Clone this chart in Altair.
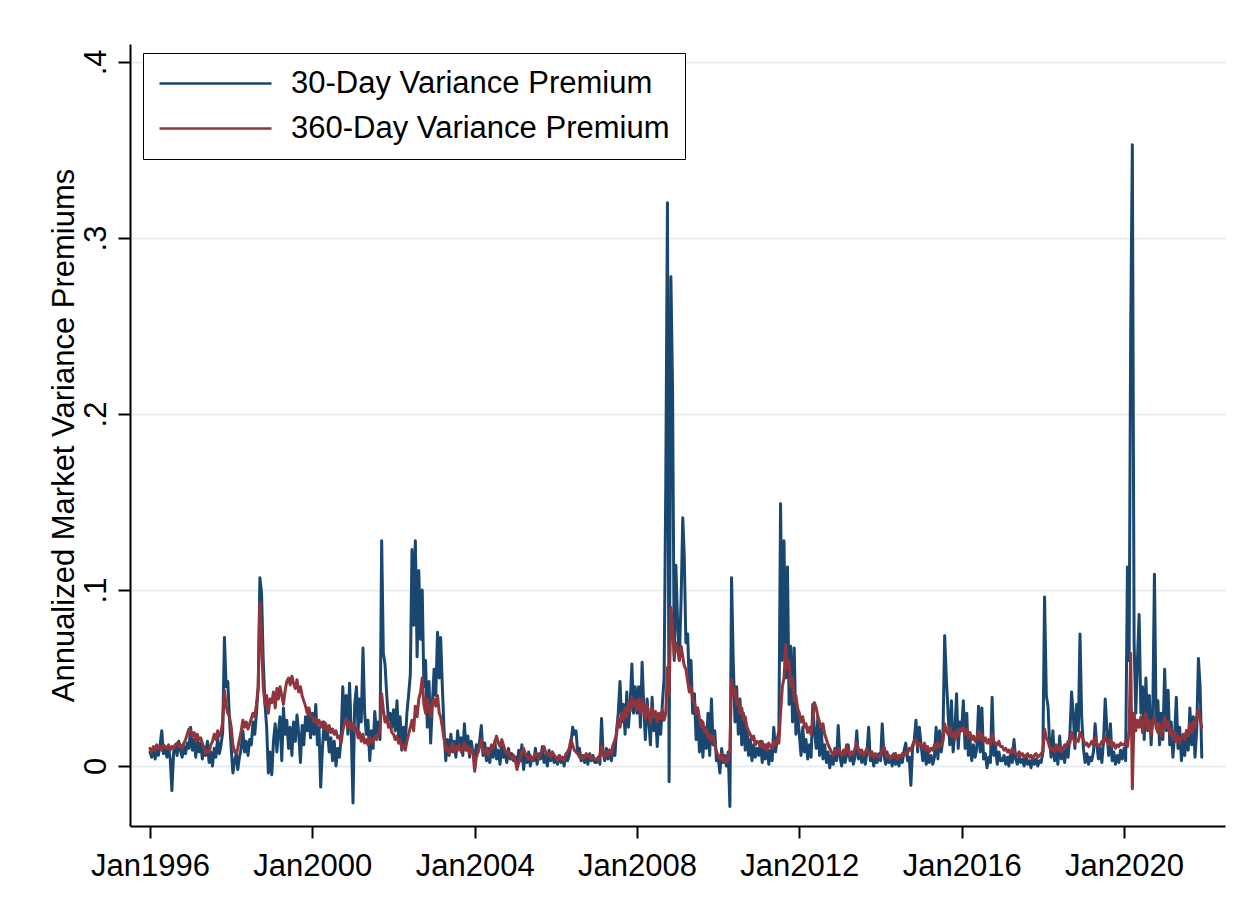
import altair as alt
import pandas as pd

# Values, in thousandths (0.001) of annualized variance.
# 24 readings per year (1st and 16th of each month); 2021 ends in early December.

p30_1996 = [8, 5, 10, 4, 9, 6, 12, 20, 7, 11, 5, 10, 4, -14, 8, 12, 6, 14, 9, 5, 11, 7, 13, 10]
p30_1997 = [22, 9, 15, 5, 17, 8, 13, 4, 11, 6, 14, 2, 8, 0, 10, 5, 16, 7, 12, 19, 73, 45, 48, 27]
p30_1998 = [10, -4, 3, 7, -2, 5, 10, 20, 8, 14, 6, 15, 12, 25, 18, 30, 45, 107, 98, 60, 35, 22, -4, 8]
p30_1999 = [-5, 14, 24, 8, 19, 28, 3, 33, 18, 26, 10, 22, 6, 25, 14, 29, 18, 2, 23, 12, 28, 20, 32, 16]
p30_2000 = [30, 18, 35, 12, 22, -12, 10, 25, 15, 20, 8, 16, 3, 14, 0, 10, 5, 16, 45, 25, 40, 18, 47, 20]
p30_2001 = [-21, 35, 45, 20, 38, 25, 67, 30, 18, 26, 3, 20, 10, 31, 18, 25, 15, 128, 64, 58, 40, 26, 30, 22]
p30_2002 = [32, 20, 37, 15, 28, 9, 22, 12, 30, 40, 52, 123, 80, 128, 62, 111, 72, 100, 45, 60, 22, 48, 13, 35]
p30_2003 = [55, 40, 76, 50, 73, 45, 20, 3, 15, 6, 18, 8, 14, 5, 20, 10, 16, 6, 24, 9, 17, 5, 14, 8]
p30_2004 = [4, 12, 8, 15, 23, 6, 13, 3, 10, 2, 11, 5, 14, 4, 9, 1, 12, 5, 8, 2, 10, 4, 7, 3]
p30_2005 = [5, 1, 9, 3, 12, -2, 6, 2, 8, 0, 5, 3, 10, 1, 7, 4, 11, 2, 6, 0, 9, 3, 7, 2]
p30_2006 = [4, 1, 6, 2, 5, 0, 7, 3, 6, 12, 22, 18, 20, 8, 10, 3, 6, 2, 5, 1, 7, 3, 6, 2]
p30_2007 = [2, 5, 1, 27, 8, 3, 10, 4, 9, 3, 12, 6, 20, 30, 48, 25, 35, 18, 42, 22, 36, 58, 30, 45]
p30_2008 = [30, 45, 22, 59, 35, 15, 38, 25, 12, 39, 20, 30, 11, 28, 18, 35, 50, 160, 320, -9, 278, 215, 60, 114]
p30_2009 = [80, 60, 95, 141, 120, 70, 75, 45, 60, 30, 41, 15, 31, 8, 26, 5, 22, 10, 30, 6, 38, 12, 20, 3]
p30_2010 = [5, -4, 10, 2, 6, 0, 8, -23, 107, 60, 25, 45, 18, 38, 12, 30, 9, 22, 6, 15, 3, 12, 5, 10]
p30_2011 = [6, 14, 2, 10, 4, 12, 1, 9, 3, 22, 8, 15, 20, 149, 60, 128, 50, 113, 35, 68, 25, 67, 18, 30]
p30_2012 = [18, 6, 22, 8, 15, 4, 12, 5, 35, 20, 10, 28, 6, 21, 4, 12, 2, 8, -1, 6, 1, 10, 3, 23]
p30_2013 = [5, 0, 8, 2, 6, 12, 3, 7, 1, 5, 20, 4, 9, 2, 6, 1, 8, 22, 3, 6, 0, 5, 2, 7]
p30_2014 = [3, 24, 6, 1, 8, 2, 5, 0, 7, 1, 4, 0, 6, 2, 9, 13, 3, 5, -11, 10, 15, 26, 8, 22]
p30_2015 = [12, 3, 10, 1, 8, 2, 6, 1, 5, 22, 4, 20, 8, 15, 74, 50, 30, 12, 37, 8, 20, 41, 10, 25]
p30_2016 = [20, 37, 10, 30, 6, 15, 3, 12, 5, 10, 34, 8, 33, 4, 7, -1, 5, 2, 39, 6, 11, 1, 8, 3]
p30_2017 = [3, 6, 1, 5, 0, 8, 2, 15, 4, 1, 5, 2, 4, 0, 6, 1, 3, -1, 5, 1, 4, 0, 3, 2]
p30_2018 = [8, 96, 40, 34, 15, 5, 20, 3, 10, 1, 17, 4, 9, 2, 12, 5, 18, 42, 30, 10, 35, 20, 75, 28]
p30_2019 = [10, 2, 7, 1, 5, 3, 8, 24, 12, 4, 10, 2, 15, 38, 20, 6, 24, 3, 8, 1, 6, 2, 9, 4]
p30_2020 = [10, 3, 113, 60, 245, 353, 70, 30, 60, 86, 30, 45, 15, 50, 20, 40, 12, 30, 109, 25, 37, 12, 30, 15]
p30_2021 = [55, 20, 43, 12, 25, 5, 18, 39, 10, 22, 3, 15, 6, 20, 9, 33, 12, 28, 5, 20, 61, 45, 5]

p360_1996 = [10, 8, 11, 9, 12, 10, 11, 9, 12, 11, 10, 12, 9, 11, 10, 12, 13, 11, 12, 10, 13, 15, 18, 21]
p360_1997 = [20, 17, 19, 14, 18, 15, 16, 13, 10, 7, 9, 8, 12, 14, 18, 15, 20, 17, 19, 25, 43, 34, 30, 28]
p360_1998 = [22, 12, 8, 7, 10, 15, 20, 26, 22, 25, 21, 24, 27, 30, 28, 35, 45, 93, 70, 45, 35, 40, 30, 38]
p360_1999 = [36, 42, 33, 44, 38, 45, 40, 35, 43, 48, 50, 46, 51, 47, 44, 49, 42, 45, 40, 37, 34, 30, 33, 28]
p360_2000 = [28, 25, 27, 24, 26, 22, 25, 21, 24, 20, 23, 19, 21, 18, 20, 16, 17, 13, 20, 24, 27, 22, 25, 21]
p360_2001 = [24, 20, 22, 16, 19, 14, 18, 13, 15, 12, 16, 13, 14, 17, 15, 18, 20, 41, 32, 25, 28, 22, 24, 19]
p360_2002 = [18, 15, 17, 13, 15, 10, 12, 9, 14, 18, 22, 26, 20, 34, 28, 38, 42, 50, 35, 30, 38, 33, 28, 36]
p360_2003 = [38, 34, 40, 30, 28, 22, 15, 9, 11, 7, 10, 13, 8, 11, 9, 12, 8, 10, 13, 9, 11, 7, 10, 8]
p360_2004 = [-3, 5, 8, 11, 15, 9, 7, 10, 6, 9, 12, 10, 14, 17, 13, 11, 15, 12, 9, 7, 8, 5, 4, 6]
p360_2005 = [3, -2, 2, 5, 8, 10, 7, 5, 4, 6, 3, 5, 7, 6, 4, 7, 9, 11, 8, 6, 7, 5, 8, 6]
p360_2006 = [5, 3, 6, 4, 5, 3, 6, 8, 10, 15, 12, 9, 8, 7, 5, 6, 4, 5, 7, 5, 6, 4, 5, 4]
p360_2007 = [4, 3, 6, 11, 7, 5, 8, 6, 9, 7, 12, 15, 18, 27, 22, 30, 26, 33, 28, 36, 31, 39, 34, 37]
p360_2008 = [32, 38, 30, 38, 33, 27, 35, 29, 24, 33, 28, 31, 25, 30, 27, 32, 26, 30, 56, 40, 90, 79, 62, 70]
p360_2009 = [66, 60, 68, 62, 57, 55, 48, 42, 45, 38, 36, 30, 33, 27, 22, 25, 19, 21, 16, 18, 14, 17, 12, 8]
p360_2010 = [6, 4, 7, 3, 5, 2, 4, 10, 49, 40, 44, 35, 38, 30, 33, 26, 28, 22, 20, 18, 15, 17, 12, 14]
p360_2011 = [13, 11, 14, 10, 12, 9, 13, 11, 10, 14, 12, 15, 13, 30, 45, 50, 69, 55, 60, 45, 50, 37, 40, 33]
p360_2012 = [30, 25, 28, 22, 24, 19, 22, 18, 26, 36, 33, 28, 25, 22, 24, 18, 15, 12, 10, 8, 6, 9, 7, 10]
p360_2013 = [8, 6, 9, 7, 12, 8, 6, 8, 7, 10, 13, 9, 7, 9, 6, 8, 10, 7, 6, 8, 5, 7, 6, 5]
p360_2014 = [6, 9, 11, 7, 5, 6, 4, 6, 5, 7, 4, 6, 5, 7, 6, 8, 7, 10, 9, 12, 14, 15, 11, 13]
p360_2015 = [12, 10, 13, 9, 11, 8, 10, 9, 12, 10, 13, 11, 12, 14, 24, 20, 18, 22, 17, 19, 15, 20, 17, 21]
p360_2016 = [20, 22, 18, 21, 16, 19, 15, 17, 14, 16, 20, 15, 18, 14, 16, 13, 15, 12, 18, 14, 13, 12, 14, 11]
p360_2017 = [11, 9, 10, 8, 9, 7, 10, 8, 7, 6, 8, 6, 7, 5, 6, 7, 5, 6, 4, 6, 7, 5, 6, 7]
p360_2018 = [8, 21, 16, 14, 11, 9, 10, 8, 12, 9, 11, 8, 10, 12, 11, 14, 13, 19, 16, 13, 15, 14, 19, 17]
p360_2019 = [15, 12, 13, 11, 12, 14, 12, 16, 13, 11, 12, 14, 13, 17, 14, 12, 15, 11, 13, 10, 12, 11, 13, 12]
p360_2020 = [12, 14, 11, 20, 64, -13, 30, 20, 26, 22, 28, 19, 24, 30, 21, 26, 18, 25, 28, 22, 19, 24, 17, 22]
p360_2021 = [28, 22, 25, 18, 21, 15, 19, 14, 17, 13, 16, 18, 15, 20, 17, 24, 19, 25, 22, 28, 32, 26, 22]

YEARS = list(range(1996, 2022))
SERIES_30 = "30-Day Variance Premium"
SERIES_360 = "360-Day Variance Premium"
TICK_YEARS = [1996, 2000, 2004, 2008, 2012, 2016, 2020]
Y_TICKS = [0, 0.1, 0.2, 0.3, 0.4]
Y_TITLE = "Annualized Market Variance Premiums"

BLOCKS_30 = [p30_1996, p30_1997, p30_1998, p30_1999, p30_2000, p30_2001, p30_2002,
             p30_2003, p30_2004, p30_2005, p30_2006, p30_2007, p30_2008, p30_2009,
             p30_2010, p30_2011, p30_2012, p30_2013, p30_2014, p30_2015, p30_2016,
             p30_2017, p30_2018, p30_2019, p30_2020, p30_2021]
BLOCKS_360 = [p360_1996, p360_1997, p360_1998, p360_1999, p360_2000, p360_2001, p360_2002,
              p360_2003, p360_2004, p360_2005, p360_2006, p360_2007, p360_2008, p360_2009,
              p360_2010, p360_2011, p360_2012, p360_2013, p360_2014, p360_2015, p360_2016,
              p360_2017, p360_2018, p360_2019, p360_2020, p360_2021]


def frame(blocks, name):
    rows = []
    for year, vals in zip(YEARS, blocks):
        for i, v in enumerate(vals):
            month = i // 2 + 1
            day = 1 if i % 2 == 0 else 16
            rows.append({"date": f"{year}-{month:02d}-{day:02d}",
                         "value": v / 1000.0, "series": name})
    return pd.DataFrame(rows)


df30 = frame(BLOCKS_30, SERIES_30)
df360 = frame(BLOCKS_360, SERIES_360)

FONT = "Liberation Sans"
NAVY = "#1a476f"
MAROON = "#90353b"
LINE_W = 3.0

x_enc = alt.X(
    "date:T",
    title=None,
    scale=alt.Scale(type="utc", domain=[alt.DateTime(year=1995, month=7, date=5, utc=True),
                                        alt.DateTime(year=2022, month=6, date=28, utc=True)]),
    axis=alt.Axis(
        values=[alt.DateTime(year=y, month=1, date=1, utc=True) for y in TICK_YEARS],
        labelExpr="'Jan' + utcFormat(datum.value, '%Y')",
        labelFont=FONT, labelFontSize=31, labelColor="black",
        labelAlign="center", labelBaseline="alphabetic", labelPadding=37,
        labelFlush=False, labelOverlap=False, labelBound=False,
        tickSize=12, tickWidth=2, tickColor="black",
        domainColor="black", domainWidth=2, grid=False,
    ),
)

y_enc = alt.Y(
    "value:Q",
    title=Y_TITLE,
    scale=alt.Scale(domain=[-0.0341, 0.4102], nice=False, zero=False),
    axis=alt.Axis(
        values=Y_TICKS,
        labelExpr="datum.value == 0 ? '0' : replace(format(datum.value, '.1f'), '0.', '.')",
        labelFont=FONT, labelFontSize=31, labelColor="black",
        labelAngle=270, labelAlign="center", labelBaseline="alphabetic", labelPadding=13,
        labelOverlap=False, labelBound=False, labelFlush=False,
        tickSize=12, tickWidth=2, tickColor="black",
        domainColor="black", domainWidth=2,
        grid=True, gridColor="#e6eef1", gridWidth=2,
        titleFont=FONT, titleFontSize=31, titleFontWeight="normal", titleColor="black",
        titleAngle=270, titleBaseline="alphabetic", titleX=-57,
    ),
)

color_enc = alt.Color(
    "series:N",
    scale=alt.Scale(domain=[SERIES_30, SERIES_360], range=[NAVY, MAROON]),
    legend=alt.Legend(
        title=None, orient="none", legendX=13, legendY=9, direction="vertical",
        symbolType="stroke", symbolSize=12544, symbolStrokeWidth=2.4,
        clipHeight=31, rowPadding=13, labelOffset=18,
        labelExpr="datum.label + '\u00a0\u00a0\u00a0'",
        labelFont=FONT, labelFontSize=31, labelColor="black", labelLimit=800,
        padding=15, strokeColor="black", fillColor="white",
    ),
)

line30 = alt.Chart(df30).mark_line(strokeWidth=LINE_W, strokeJoin="round", strokeCap="round").encode(
    x=x_enc, y=y_enc, color=color_enc
)
line360 = alt.Chart(df360).mark_line(strokeWidth=LINE_W, strokeJoin="round", strokeCap="round").encode(
    x=x_enc, y=y_enc, color=color_enc
)

chart = (
    alt.layer(line30, line360)
    .properties(
        width=1095, height=782,
        padding={"left": 122, "top": 36, "right": 10, "bottom": 60},
        autosize=alt.AutoSizeParams(type="none"),
        background="white",
    )
    .configure_view(strokeWidth=0)
)

chart.save("out.html", embed_options={"renderer": "svg", "actions": False})
